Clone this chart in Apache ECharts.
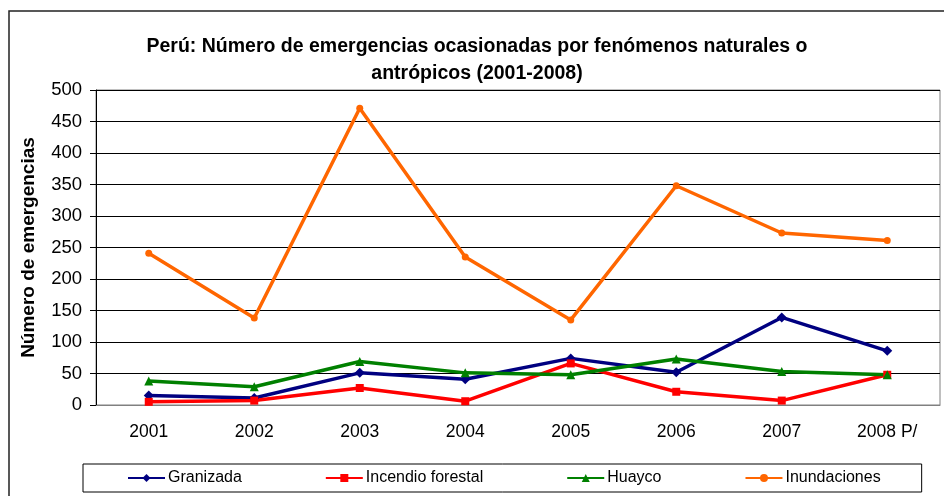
<!DOCTYPE html>
<html lang="es">
  <head>
    <meta charset="UTF-8" />
    <title>Perú: Número de emergencias</title>
    <script src="https://cdn.jsdelivr.net/npm/echarts@6/dist/echarts.min.js"></script>
    <style>
      html, body { margin: 0; padding: 0; background: #fff; }
      #chart { width: 944px; height: 496px; }
    </style>
  </head>
  <body>
    <div id="chart"></div>
    <script>
      // data
      const years = ["2001", "2002", "2003", "2004", "2005", "2006", "2007", "2008 P/"];
      const granizada = [15, 11, 51, 41, 74, 52, 139, 86];
      const incendio = [5, 7, 27, 6, 66, 21, 7, 48];
      const huayco = [38, 29, 69, 51, 48, 73, 53, 48];
      const inundaciones = [241, 138, 471, 235, 135, 348, 273, 261];

      const font = "'Liberation Sans', Arial, sans-serif";

      function line(name, data, color, symbol, size) {
        return {
          name: name,
          type: "line",
          data: data,
          symbol: symbol,
          symbolSize: size,
          lineStyle: { color: color, width: 3.5 },
          itemStyle: { color: color },
          animation: false,
        };
      }

      const chart = echarts.init(document.getElementById("chart"));
      chart.setOption({
        backgroundColor: "#fff",
        textStyle: { fontFamily: font },
        title: {
          text: "Perú: Número de emergencias ocasionadas por fenómenos naturales o\nantrópicos (2001-2008)",
          left: 472,
          top: 28,
          textAlign: "center",
          textStyle: { fontSize: 19.5, fontWeight: "bold", color: "#000", lineHeight: 27, fontFamily: font },
        },
        graphic: [
          {
            type: "rect",
            shape: { x: 9, y: 11, width: 960, height: 520 },
            style: { fill: null, stroke: "#222", lineWidth: 1.5 },
            silent: true,
          },
        ],
        grid: {
          left: 96,
          right: 4,
          top: 90,
          bottom: 91,
          show: true,
          borderColor: "#808080",
          borderWidth: 1,
        },
        legend: {
          left: 83,
          top: 464,
          padding: [6, 41, 6, 44],
          itemGap: 83,
          itemWidth: 37,
          itemHeight: 10,
          borderColor: "#000",
          borderWidth: 1,
          textStyle: { fontSize: 16, color: "#000", fontFamily: font, padding: [0, 0, 0, -2] },
          data: ["Granizada", "Incendio forestal", "Huayco", "Inundaciones"],
        },
        xAxis: {
          type: "category",
          data: years,
          boundaryGap: true,
          axisLine: { lineStyle: { color: "#808080", width: 1 } },
          axisTick: { length: 6, lineStyle: { color: "#808080" } },
          axisLabel: { fontSize: 17.5, color: "#000", margin: 18, fontFamily: font },
        },
        yAxis: {
          type: "value",
          min: 0,
          max: 500,
          interval: 50,
          name: "Número de emergencias",
          nameLocation: "middle",
          nameGap: 58,
          nameTextStyle: { fontSize: 19, fontWeight: "bold", color: "#000", fontFamily: font },
          axisLine: { show: true, lineStyle: { color: "#000", width: 1 } },
          axisTick: { show: true, length: 6, lineStyle: { color: "#000" } },
          axisLabel: { fontSize: 18.5, color: "#000", margin: 14, fontFamily: font },
          splitLine: { lineStyle: { color: "#000", width: 1 } },
        },
        series: [
          line("Granizada", granizada, "#000080", "diamond", 10),
          line("Incendio forestal", incendio, "#ff0000", "rect", 8),
          line("Huayco", huayco, "#008000", "triangle", 9),
          line("Inundaciones", inundaciones, "#ff6600", "circle", 7),
        ],
      });
    </script>
  </body>
</html>
